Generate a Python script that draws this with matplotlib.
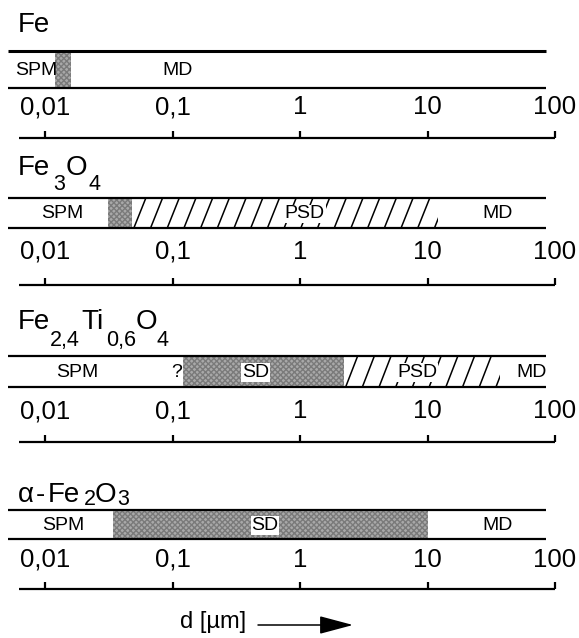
import numpy as np
import matplotlib
matplotlib.use("Agg")
import matplotlib.pyplot as plt
from matplotlib.patches import Rectangle

plt.rcParams['font.family'] = ['Liberation Sans', 'DejaVu Sans']

# grain-size ranges in micrometres for each mineral
# formula parts: (text, is_subscript, gap before in px)
titles = [
    [('Fe', 0, 0)],
    [('Fe', 0, 0), ('3', 1, 3), ('O', 0, 0), ('4', 1, 2)],
    [('Fe', 0, 0), ('2,4', 1, 0), ('Ti', 0, 1), ('0,6', 1, 3), ('O', 0, -1), ('4', 1, -1)],
    [('α', 0, 0), ('-', 0, 2), ('Fe', 0, 2), ('2', 1, 4), ('O', 0, -1), ('3', 1, 1)],
]
sd_ranges = [(0.012, 0.016), (0.031, 0.048), (0.12, 2.2), (0.034, 10.0)]
psd_ranges = [None, (0.048, 12.0), (2.2, 37.0), None]
labels = [
    [('SPM', 0.0085), ('MD', 0.11)],
    [('SPM', 0.0136), ('PSD', 1.09), ('MD', 35.7)],
    [('SPM', 0.018), ('?', 0.108), ('SD', 0.45), ('PSD', 8.3), ('MD', 66.0)],
    [('SPM', 0.0138), ('SD', 0.53), ('MD', 35.7)],
]
bar_span = (0.00513, 85.0)
scale_span = (0.0062, 100.0)
tick_values = [0.01, 0.1, 1, 10, 100]
tick_labels = ['0,01', '0,1', '1', '10', '100']

# vertical layout (pixels from the top): title baseline, subscript drop,
# bar top, bar bottom, tick label, scale line
rows = [
    (32, 15, 51, 88, 107, 138),
    (175, 15, 198, 228, 252, 285),
    (329, 17, 356, 387, 411, 442),
    (502, 3, 510, 539, 560, 589),
]

W, H = 579, 638
X0, DEC = 45.0, 127.5  # pixel of 0.01 um, pixels per decade


def px2d(x):
    return 10 ** ((x - X0) / DEC - 2)


fig = plt.figure(figsize=(W / 100, H / 100), dpi=100)
ax = fig.add_axes([0, 0, 1, 1])
ax.set_xscale('log')
ax.set_xlim(px2d(0), px2d(W))
ax.set_ylim(H, 0)
ax.axis('off')
renderer = fig.canvas.get_renderer()

GRAY = '#a9a9a9'


def draw_formula(x, y, parts, drop, size=20, sub_size=15.5):
    for txt, sub, gap in parts:
        x += gap
        t = ax.text(px2d(x), y + (drop if sub else 0), txt,
                    fontsize=sub_size if sub else size, ha='left', va='baseline')
        x += t.get_window_extent(renderer=renderer).width


def hatch_region(d0, d1, top, bot, spacing=16.7, slant=12.0):
    clip = Rectangle((d0, top), d1 - d0, bot - top, transform=ax.transData,
                     fill=False, lw=0)
    ax.add_patch(clip)
    x0 = ax.transData.transform((d0, 0))[0]
    x1 = ax.transData.transform((d1, 0))[0]
    inv = ax.transData.inverted()
    xb = x0 + 2
    while xb < x1 + slant:
        p = inv.transform([(xb, H - bot), (xb + slant, H - top)])
        ln, = ax.plot(p[:, 0], p[:, 1], color='black', lw=1.1)
        ln.set_clip_path(clip)
        xb += spacing


for i, (ty, drop, top, bot, ly, sy) in enumerate(rows):
    draw_formula(18, ty, titles[i], drop)

    if psd_ranges[i] is not None:
        hatch_region(psd_ranges[i][0], psd_ranges[i][1], top, bot)
    s0, s1 = sd_ranges[i]
    ax.fill_between([s0, s1], top, bot, color=GRAY, lw=0,
                    hatch='xxxxxx', edgecolor='#7a7a7a')

    lw_top = 2.2 if i == 0 else 1.6
    ax.hlines(top, *bar_span, color='black', lw=lw_top)
    ax.hlines(bot, *bar_span, color='black', lw=1.6)

    mid = (top + bot) / 2
    for txt, xd in labels[i]:
        box = None
        if txt in ('SD', 'PSD'):
            box = dict(facecolor='white', edgecolor='none', pad=0.5)
        ax.text(xd, mid + 1, txt, fontsize=14, ha='center', va='center', bbox=box)

    for v, t in zip(tick_values, tick_labels):
        ax.text(v, ly, t, fontsize=18.5, ha='center', va='center')

    # scale bracket with decade ticks pointing up
    ax.hlines(sy, *scale_span, color='black', lw=1.6)
    ax.vlines(tick_values, sy - 7, sy, color='black', lw=1.6)

ax.text(px2d(180), 622, 'd [µm]', fontsize=17, ha='left', va='center')
ax.annotate('', xy=(px2d(353), 625), xytext=(px2d(258), 625),
            arrowprops=dict(arrowstyle='-|>,head_length=1.05,head_width=0.28',
                            mutation_scale=20, color='black', lw=1.1,
                            shrinkA=0, shrinkB=0))

fig.savefig('out.png', dpi=100)
